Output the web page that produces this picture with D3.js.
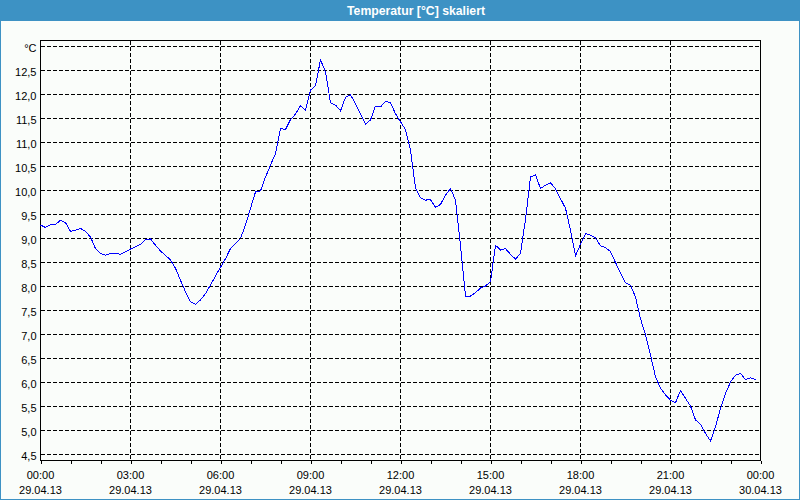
<!DOCTYPE html>
<html>
<head>
<meta charset="utf-8">
<script src="https://cdn.jsdelivr.net/npm/d3@7"></script>
<style>
  html, body { margin: 0; padding: 0; background: #fafdfa; }
  svg { display: block; }
</style>
</head>
<body>
<svg id="chart" width="800" height="500"></svg>
<script>
// ---- data ----
const title = "Temperatur [°C] skaliert";
const unitLabel = "°C";
const sampleMinutes = 10;           // one reading every 10 minutes, starting 29.04.13 00:00
const temperatures = [
  9.28, 9.23, 9.29, 9.29, 9.38, 9.33, 9.15, 9.17, 9.21, 9.15, 9.03, 8.79,
  8.69, 8.65, 8.69, 8.69, 8.67, 8.72, 8.78, 8.83, 8.88, 8.98, 8.99, 8.86,
  8.74, 8.65, 8.55, 8.38, 8.13, 7.89, 7.68, 7.63, 7.72, 7.85, 8.03, 8.22,
  8.40, 8.58, 8.79, 8.90, 9.00, 9.28, 9.63, 9.97, 9.99, 10.28, 10.53, 10.77,
  11.29, 11.27, 11.48, 11.59, 11.77, 11.67, 12.09, 12.19, 12.72, 12.47, 11.83, 11.78,
  11.66, 11.94, 11.99, 11.81, 11.59, 11.38, 11.47, 11.76, 11.74, 11.86, 11.83, 11.60,
  11.43, 11.27, 10.84, 10.05, 9.85, 9.80, 9.81, 9.65, 9.71, 9.90, 10.04, 9.80,
  8.85, 7.80, 7.80, 7.87, 7.97, 8.01, 8.10, 8.86, 8.76, 8.79, 8.67, 8.57,
  8.69, 9.40, 10.28, 10.33, 10.04, 10.11, 10.16, 10.04, 9.83, 9.63, 9.17, 8.64,
  8.88, 9.10, 9.07, 9.01, 8.85, 8.81, 8.73, 8.50, 8.28, 8.08, 8.03, 7.78,
  7.33, 6.99, 6.57, 6.12, 5.88, 5.74, 5.63, 5.58, 5.83, 5.67, 5.51, 5.22,
  5.13, 4.94, 4.78, 5.08, 5.46, 5.77, 6.01, 6.15, 6.19, 6.06, 6.10, 6.06
];
const xMajorHours = [0, 3, 6, 9, 12, 15, 18, 21, 24];
const xTimeLabels = ["00:00", "03:00", "06:00", "09:00", "12:00", "15:00", "18:00", "21:00", "00:00"];
const xDateLabels = ["29.04.13", "29.04.13", "29.04.13", "29.04.13", "29.04.13", "29.04.13", "29.04.13", "29.04.13", "30.04.13"];
const xMinorHours = [0,1,2,3,4,5,6,7,8,9,10,11,12,13,14,15,16,17,18,19,20,21,22,23,24];
const yTickValues = [4.5, 5.0, 5.5, 6.0, 6.5, 7.0, 7.5, 8.0, 8.5, 9.0, 9.5, 10.0, 10.5, 11.0, 11.5, 12.0, 12.5, 13.0];
const yTickLabels = ["4,5", "5,0", "5,5", "6,0", "6,5", "7,0", "7,5", "8,0", "8,5", "9,0", "9,5", "10,0", "10,5", "11,0", "11,5", "12,0", "12,5", unitLabel];

(function () {
// ---- layout ----
const W = 800, H = 500;
const pLeft = 40.5, pRight = 760.5, pTop = 40.5, pBottom = 460.5;
const blue = "#3d92c4";
const font = "'Liberation Sans', Arial, sans-serif";

const svg = d3.select("#chart");

// background + border
svg.append("rect").attr("x", 0).attr("y", 0).attr("width", W).attr("height", H).attr("fill", "#fafdfa");
svg.append("rect").attr("x", 0.5).attr("y", 0.5).attr("width", W - 1).attr("height", H - 1)
  .attr("fill", "none").attr("stroke", blue).attr("stroke-width", 1).attr("shape-rendering", "crispEdges");
svg.append("rect").attr("x", 0).attr("y", 0).attr("width", W).attr("height", 21).attr("fill", blue);
svg.append("text").attr("x", 416).attr("y", 15).attr("text-anchor", "middle")
  .attr("fill", "#ffffff").attr("font-family", font)
  .attr("font-weight", "bold").attr("font-size", "12px")
  .attr("textLength", 138).attr("lengthAdjust", "spacingAndGlyphs").text(title);

// scales
const x = d3.scaleLinear().domain([0, 24]).range([pLeft, pRight]);
const y = d3.scaleLinear().domain([4.5, 13]).range([454.5, 46.5]);

// grid
const grid = svg.append("g").attr("shape-rendering", "crispEdges")
  .attr("stroke", "#000").attr("stroke-width", 1).attr("stroke-dasharray", "4,2");
grid.selectAll("line.h").data(yTickValues).join("line").attr("class", "h")
  .attr("x1", pLeft).attr("x2", pRight)
  .attr("y1", d => y(d)).attr("y2", d => y(d));
grid.selectAll("line.v").data(xMajorHours.slice(1, -1)).join("line").attr("class", "v")
  .attr("y1", pTop).attr("y2", pBottom)
  .attr("x1", d => x(d)).attr("x2", d => x(d));

// frame
svg.append("rect").attr("x", pLeft).attr("y", pTop).attr("width", pRight - pLeft).attr("height", pBottom - pTop)
  .attr("fill", "none").attr("stroke", "#000").attr("stroke-width", 1).attr("shape-rendering", "crispEdges");

// x axis (minor ticks every hour, labels every 3 hours)
const xAxis = d3.axisBottom(x).tickValues(xMinorHours).tickSize(3).tickSizeOuter(0).tickFormat("");
const gx = svg.append("g").attr("transform", `translate(0,${pBottom})`).call(xAxis);
gx.select(".domain").remove();
gx.selectAll(".tick line").attr("stroke", "#000").attr("shape-rendering", "crispEdges");

const xl = svg.append("g").attr("font-family", font).attr("font-size", "11px").attr("fill", "#000").attr("text-anchor", "middle");
xl.selectAll("text.t").data(xMajorHours).join("text").attr("class", "t")
  .attr("x", d => x(d)).attr("y", 479).text((d, i) => xTimeLabels[i]);
xl.selectAll("text.d").data(xMajorHours).join("text").attr("class", "d")
  .attr("x", d => x(d)).attr("y", 494).text((d, i) => xDateLabels[i]);

// y axis labels
const yAxis = d3.axisLeft(y).tickValues(yTickValues).tickSize(0).tickPadding(4)
  .tickFormat((d, i) => yTickLabels[i]);
const gy = svg.append("g").attr("transform", `translate(${pLeft},0)`).call(yAxis);
gy.select(".domain").remove();
gy.selectAll(".tick text").attr("font-family", font).attr("font-size", "11px").attr("fill", "#000")
  .attr("dy", "0.45em");

// line
const line = d3.line()
  .x((d, i) => x(i * sampleMinutes / 60))
  .y(d => y(d));
svg.append("path").datum(temperatures).attr("d", line)
  .attr("fill", "none").attr("stroke", "#0000ff").attr("stroke-width", 1)
  .attr("shape-rendering", "crispEdges");
})();
</script>
</body>
</html>
